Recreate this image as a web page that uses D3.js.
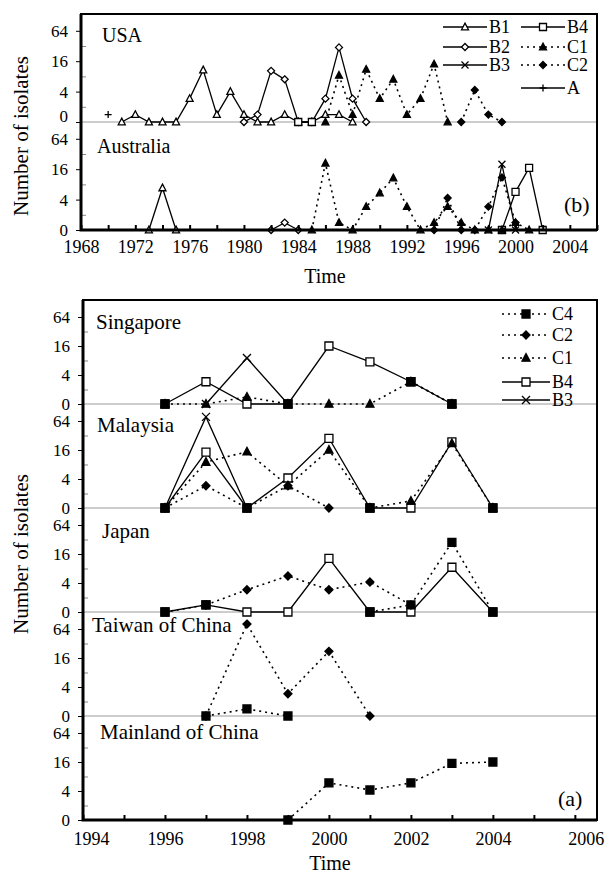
<!DOCTYPE html>
<html>
<head>
<meta charset="utf-8">
<script src="https://cdn.jsdelivr.net/npm/d3@7/dist/d3.min.js"></script>
<style>
    body { margin: 0; background: #fff; }
    svg { display: block; font-family: "Liberation Serif", "Times New Roman", serif; }
</style>
</head>
<body>
<svg id="chart" width="605" height="873"></svg>
<script>
// number of isolates per year; the lowest level (axis label "0") is stored as 1
// ---- (b) USA ----
var usaA  = [[1970, 1.4]];
var usaB1 = [[1971, 1], [1972, 1.4], [1973, 1], [1974, 1], [1975, 1], [1976, 2.9], [1977, 10.7], [1978, 1.4], [1979, 4],
             [1980, 1.4], [1981, 1], [1982, 1], [1983, 1.4], [1984, 1], [1985, 1], [1986, 1.4], [1987, 1.4], [1988, 1]];
var usaB2 = [[1980, 1], [1981, 1.4], [1982, 10.3], [1983, 7], [1984, 1], [1985, 1], [1986, 2.9], [1987, 30], [1988, 2.9], [1989, 1]];
var usaB4 = [[1984, 1], [1985, 1]];
var usaC1 = [[1986, 1], [1987, 8.4], [1988, 1.4], [1989, 11], [1990, 2.9], [1991, 7], [1992, 1.4], [1993, 2.9], [1994, 14], [1995, 1]];
var usaC2 = [[1996, 1], [1997, 4.3], [1998, 1.4], [1999, 1]];
// ---- (b) Australia ----
var ausB1 = [[1973, 1], [1974, 6.8], [1975, 1]];
var ausB2 = [[1982, 1], [1983, 1.4], [1984, 1]];
var ausB3 = [[1998, 1], [1999, 20], [2000, 1]];
var ausB4 = [[1999, 1], [2000, 5.7], [2001, 17], [2002, 1]];
var ausC1 = [[1985, 1], [1986, 21], [1987, 1.4], [1988, 1], [1989, 2.9], [1990, 5.4], [1991, 10.7], [1992, 2.9], [1993, 1],
             [1994, 1.4], [1995, 2.9], [1996, 1.4], [1997, 1], [1998, 1], [1999, 1], [2000, 1.4], [2001, 1]];
var ausC2 = [[1994, 1], [1995, 4.3], [1996, 1], [1997, 1], [1998, 2.9], [1999, 11], [2000, 1.4]];

// ---- (a) years and series ----
var yearsA = [1996, 1997, 1998, 1999, 2000, 2001, 2002, 2003, 2004];
var sinB3 = [null, 1, 9, 1, null, null, null, null, null];
var sinB4 = [1, 2.9, 1, 1, 16, 7.5, 2.9, 1, null];
var sinC1 = [1, 1, 1.4, 1, 1, 1, 2.9, 1, null];
var sinC4 = [1, null, null, 1, null, null, 2.9, 1, null];
var malB3 = [1, 78, 1, null, null, null, null, null, null];
var malB4 = [1, 14.5, 1, 4.2, 28, 1, 1, 23.5, 1];
var malC1 = [1, 9, 14.7, 2.9, 16, 1, 1.4, 22, 1];
var malC2 = [1, 2.9, 1, 2.9, 1, null, null, null, null];
var malC4 = [1, null, 1, null, null, 1, null, null, 1];
var japB4 = [1, 1.4, 1, 1, 13, 1, 1, 8.5, 1];
var japC2 = [null, 1.4, 2.9, 5.6, 2.9, 4.2, 1.4, null, null];
var japC4 = [1, 1.4, null, null, null, 1, 1.4, 28, 1];
var twnC2 = [null, 1, 81, 2.9, 22, 1, null, null, null];
var twnC4 = [null, 1, 1.4, 1, null, null, null, null, null];
var chnC4 = [null, null, null, 1, 5.9, 4.2, 5.9, 15, 16];

var yTickValues = [1, 4, 16, 64];
var yTickLabels = ["0", "4", "16", "64"];
var yMinorValues = [2, 8, 32];

var styles = {
    A:  { marker: "plus",    dash: null },
    B1: { marker: "triOpen", dash: null },
    B2: { marker: "diaOpen", dash: null },
    B3: { marker: "x",       dash: null },
    B4: { marker: "sqOpen",  dash: null },
    C1: { marker: "tri",     dash: "2,4" },
    C2: { marker: "dia",     dash: "2,4" },
    C4: { marker: "sq",      dash: "2,4" }
};

var FONT = "Liberation Serif";
var svg = d3.select("#chart");

function pairs(values) {
    return yearsA.map(function (yr, i) { return [yr, values[i]]; });
}

function marker(g, type, cx, cy, s) {
    var h = s / 2, p;
    if (type == "tri" || type == "triOpen") {
        p = "M" + cx + "," + (cy - h * 1.1) + "L" + (cx + h) + "," + (cy + h * 0.8) + "L" + (cx - h) + "," + (cy + h * 0.8) + "Z";
    } else if (type == "dia" || type == "diaOpen") {
        p = "M" + cx + "," + (cy - h) + "L" + (cx + h) + "," + cy + "L" + cx + "," + (cy + h) + "L" + (cx - h) + "," + cy + "Z";
    } else if (type == "sq" || type == "sqOpen") {
        p = "M" + (cx - h) + "," + (cy - h) + "h" + s + "v" + s + "h" + (-s) + "Z";
    } else if (type == "x") {
        p = "M" + (cx - h) + "," + (cy - h) + "L" + (cx + h) + "," + (cy + h) + "M" + (cx + h) + "," + (cy - h) + "L" + (cx - h) + "," + (cy + h);
    } else {
        p = "M" + (cx - h) + "," + cy + "L" + (cx + h) + "," + cy + "M" + cx + "," + (cy - h) + "L" + cx + "," + (cy + h);
    }
    var filled = (type == "tri" || type == "dia" || type == "sq");
    var open = (type == "triOpen" || type == "diaOpen" || type == "sqOpen");
    g.append("path").attr("d", p)
        .attr("fill", filled ? "#000" : (open ? "#fff" : "none"))
        .attr("stroke", "#000").attr("stroke-width", 1.3);
}

function drawSeries(g, x, y, data, key, size) {
    var st = styles[key];
    var line = d3.line()
        .defined(function (d) { return d[1] != null; })
        .x(function (d) { return x(d[0]); })
        .y(function (d) { return y(d[1]); });
    g.append("path").datum(data)
        .attr("d", line)
        .attr("fill", "none").attr("stroke", "#000")
        .attr("stroke-width", st.dash ? 1.6 : 1.3)
        .attr("stroke-dasharray", st.dash);
    data.forEach(function (d) {
        if (d[1] != null) marker(g, st.marker, x(d[0]), y(d[1]), size);
    });
}

// draws one chart: frame, stacked panels, axes
function drawChart(cfg) {
    var g = svg.append("g");
    var x = cfg.x;
    var x0 = x.range()[0], x1 = x.range()[1];
    var n = cfg.panels.length;

    cfg.panels.forEach(function (p, i) {
        var zero = cfg.bottom - (n - 1 - i) * cfg.step;
        var y = d3.scaleLog().base(4).domain([1, 64]).range([zero, zero - cfg.levelPx * 3]);

        // gray zero line between panels
        if (i < n - 1) {
            g.append("line").attr("x1", x0).attr("x2", x1).attr("y1", zero).attr("y2", zero)
                .attr("stroke", "#9a9a9a").attr("stroke-width", 1);
        }
        var ax = g.append("g").attr("transform", "translate(" + x0 + ",0)")
            .call(d3.axisLeft(y).tickValues(yTickValues).tickSize(5).tickPadding(8)
                .tickFormat(function (d, k) { return yTickLabels[k]; }));
        ax.select(".domain").remove();
        ax.selectAll("text").attr("font-size", 17).attr("font-family", FONT).attr("fill", "#000")
            .attr("dy", function (d) { return (d == 1 && i < n - 1 && cfg.raiseZero) ? "-0.05em" : "0.32em"; });
        var mi = g.append("g").attr("transform", "translate(" + x0 + ",0)")
            .call(d3.axisRight(y).tickValues(yMinorValues).tickSize(5).tickFormat(""));
        mi.select(".domain").remove();
        mi.selectAll("line").attr("stroke", "#888");

        g.append("text").attr("x", p.labelX).attr("y", zero - cfg.step + p.labelDy)
            .attr("font-family", FONT).attr("font-size", cfg.nameSize).text(p.name);

        var sg = g.append("g");
        p.series.forEach(function (s) { drawSeries(sg, x, y, s.data, s.key, cfg.markerSize); });
    });

    // x axis
    var xa = g.append("g").attr("transform", "translate(0," + cfg.bottom + ")")
        .call(d3.axisBottom(x).tickValues(cfg.xTicks).tickSize(-5).tickPadding(cfg.xPad)
            .tickFormat(function (d) { return cfg.xLabels.indexOf(d) >= 0 ? d : ""; }));
    xa.select(".domain").remove();
    xa.selectAll("line").attr("stroke-width", 2);
    xa.selectAll("text").attr("font-size", 18).attr("font-family", FONT).attr("fill", "#000")
        .attr("dx", function (d) { return cfg.labelShift[d] || 0; });

    // frame
    var top = cfg.bottom - n * cfg.step;
    g.append("rect").attr("x", x0).attr("y", top).attr("width", x1 - x0).attr("height", cfg.bottom - top)
        .attr("fill", "none").attr("stroke", "#000").attr("stroke-width", 2);
    g.append("path").attr("d", "M" + x0 + "," + top + "V" + cfg.bottom + "H" + x1)
        .attr("fill", "none").attr("stroke", "#000").attr("stroke-width", 3);

    g.append("text").attr("x", cfg.timeX).attr("y", cfg.timeY).attr("text-anchor", "middle")
        .attr("font-family", FONT).attr("font-size", 20).text("Time");
    g.append("text").attr("transform", "translate(28," + cfg.yLabelY + ") rotate(-90)")
        .attr("text-anchor", "middle").attr("font-family", FONT).attr("font-size", 21).text("Number of isolates");
    g.append("text").attr("x", cfg.tagX).attr("y", cfg.tagY)
        .attr("font-family", FONT).attr("font-size", 22).text(cfg.tag);

    // legend
    var lg = g.append("g");
    cfg.legend.forEach(function (l) {
        var st = styles[l.key];
        lg.append("line").attr("x1", l.x).attr("x2", l.x + cfg.legendLen).attr("y1", l.y).attr("y2", l.y)
            .attr("stroke", "#000").attr("stroke-width", st.dash ? 1.6 : 1.3)
            .attr("stroke-dasharray", st.dash);
        marker(lg, st.marker, l.x + cfg.legendLen / 2, l.y, cfg.markerSize);
        lg.append("text").attr("x", l.x + cfg.legendLen + 2).attr("y", l.y + 6)
            .attr("font-family", FONT).attr("font-size", 18).text(l.key);
    });
}

var topYears = [], topLabels = [1968, 1972, 1976, 1980, 1984, 1988, 1992, 1996, 2000, 2004];
for (var yr = 1968; yr <= 2006; yr += 2) topYears.push(yr);
var botYears = [], botLabels = [1994, 1996, 1998, 2000, 2002, 2004, 2006];
for (var yr2 = 1994; yr2 <= 2006; yr2++) botYears.push(yr2);

drawChart({
    x: d3.scaleLinear().domain([1968, 2006]).range([81, 597]),
    bottom: 230, step: 108, levelPx: 30.4, markerSize: 7, nameSize: 20, raiseZero: true,
    xTicks: topYears, xLabels: topLabels, xPad: 10, labelShift: {},
    timeX: 325, timeY: 283, yLabelY: 136, tag: "(b)", tagX: 564, tagY: 212,
    legendLen: 44,
    legend: [
        { key: "B1", x: 443, y: 27 }, { key: "B2", x: 443, y: 47 }, { key: "B3", x: 443, y: 65 },
        { key: "B4", x: 521, y: 27 }, { key: "C1", x: 521, y: 47 }, { key: "C2", x: 521, y: 65 },
        { key: "A", x: 521, y: 88 }
    ],
    panels: [
        { name: "USA", labelX: 102, labelDy: 28, series: [
            { key: "A", data: usaA }, { key: "B1", data: usaB1 }, { key: "B2", data: usaB2 },
            { key: "B4", data: usaB4 }, { key: "C1", data: usaC1 }, { key: "C2", data: usaC2 } ] },
        { name: "Australia", labelX: 97, labelDy: 31, series: [
            { key: "B1", data: ausB1 }, { key: "B2", data: ausB2 }, { key: "B3", data: ausB3 },
            { key: "B4", data: ausB4 }, { key: "C1", data: ausC1 }, { key: "C2", data: ausC2 } ] }
    ]
});

drawChart({
    x: d3.scaleLinear().domain([1994, 2006.54]).range([83, 597]),
    bottom: 820, step: 104, levelPx: 29, markerSize: 8, nameSize: 21, raiseZero: false,
    xTicks: botYears, xLabels: botLabels, xPad: 12, labelShift: { 1994: 8, 2006: 11 },
    timeX: 330, timeY: 870, yLabelY: 554, tag: "(a)", tagX: 558, tagY: 806,
    legendLen: 48,
    legend: [
        { key: "C4", x: 502, y: 314 }, { key: "C2", x: 502, y: 335 }, { key: "C1", x: 502, y: 358 },
        { key: "B4", x: 502, y: 382 }, { key: "B3", x: 502, y: 400 }
    ],
    panels: [
        { name: "Singapore", labelX: 96, labelDy: 29, series: [
            { key: "B3", data: pairs(sinB3) }, { key: "B4", data: pairs(sinB4) },
            { key: "C1", data: pairs(sinC1) }, { key: "C4", data: pairs(sinC4) } ] },
        { name: "Malaysia", labelX: 97, labelDy: 28, series: [
            { key: "B3", data: pairs(malB3) }, { key: "B4", data: pairs(malB4) }, { key: "C1", data: pairs(malC1) },
            { key: "C2", data: pairs(malC2) }, { key: "C4", data: pairs(malC4) } ] },
        { name: "Japan", labelX: 102, labelDy: 30, series: [
            { key: "B4", data: pairs(japB4) }, { key: "C2", data: pairs(japC2) }, { key: "C4", data: pairs(japC4) } ] },
        { name: "Taiwan of China", labelX: 92, labelDy: 20, series: [
            { key: "C2", data: pairs(twnC2) }, { key: "C4", data: pairs(twnC4) } ] },
        { name: "Mainland of China", labelX: 100, labelDy: 23, series: [
            { key: "C4", data: pairs(chnC4) } ] }
    ]
});
</script>
</body>
</html>
